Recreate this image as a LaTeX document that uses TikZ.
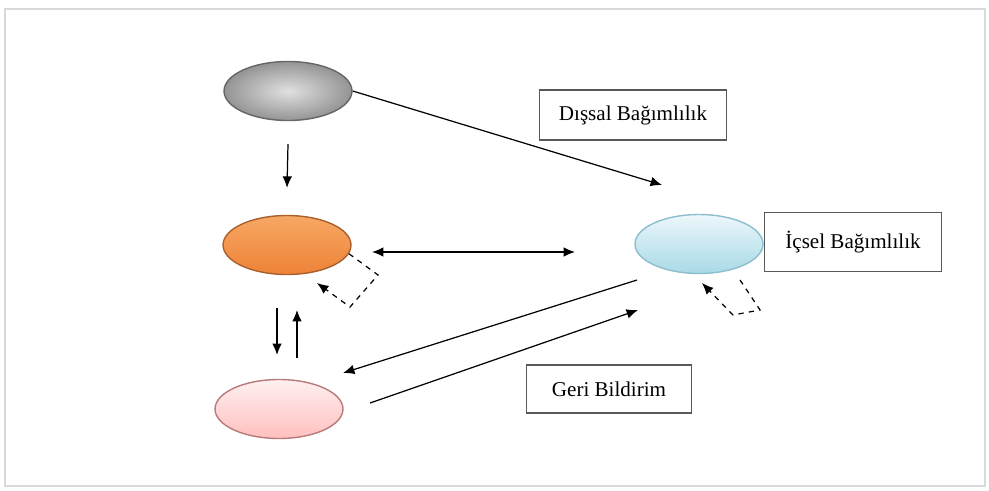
\documentclass[tikz,border=0pt]{standalone}
\usepackage{fontspec}
\newfontfamily\tagfont{Liberation Serif}
\usetikzlibrary{shapes.geometric, arrows.meta}
\definecolor{coreTop}{RGB}{247,168,100}
\definecolor{coreBot}{RGB}{238,130,55}
\definecolor{coreLine}{RGB}{170,95,45}
\definecolor{innerTop}{RGB}{236,247,251}
\definecolor{innerBot}{RGB}{168,218,230}
\definecolor{innerLine}{RGB}{140,190,205}

\begin{document}
\begin{tikzpicture}[x=0.02cm, y=-0.02cm, >={Latex[length=6.5pt,width=5.5pt]},
  oval/.style={ellipse, minimum width=2.56cm, minimum height=1.18cm, inner sep=0pt, line width=0.8pt},
  tag/.style={draw=black!65, line width=0.9pt, inner sep=0pt, font=\tagfont\fontsize{12}{14}\selectfont},
  link/.style={line width=0.7pt}]
\useasboundingbox (0,0) rectangle (989,490);

% Frame
\draw[black!15, line width=1.6pt] (5,9) rectangle (985,486);

% Draw ovals
\node[oval, draw=black!60, inner color=black!12, outer color=black!42] (source) at (288,91) {};
\node[oval, draw=coreLine, top color=coreTop, bottom color=coreBot] (core) at (287,245) {};
\node[oval, draw=innerLine, top color=innerTop, bottom color=innerBot] (inner) at (699,244) {};
\node[oval, draw=red!30!gray!80, top color=red!6, bottom color=red!25!white] (feedback) at (279,409) {};

% Labels
\node[tag, minimum width=3.74cm, minimum height=1cm] (extLbl) at (633,115) {Dışsal Bağımlılık};
\node[tag, minimum width=3.54cm, minimum height=1.18cm] (intLbl) at (853,242) {İçsel Bağımlılık};
\node[tag, minimum width=3.3cm, minimum height=0.96cm] (fbLbl) at (609,389) {Geri Bildirim};

% Free ends
\coordinate (extEnd) at (662,185);
\coordinate (downA) at (277,308);
\coordinate (downB) at (277,355);
\coordinate (upA) at (297,358);
\coordinate (upB) at (297,310);
\coordinate (coreR) at (372,252);
\coordinate (innerL) at (575,252);
\coordinate (backA) at (637,280);
\coordinate (backB) at (343,373);
\coordinate (fbA) at (370,403);
\coordinate (fbB) at (638,310);
\coordinate (coreLoopA) at (378,275);
\coordinate (coreLoopB) at (350,307);
\coordinate (coreLoopC) at (317,283);
\coordinate (innerLoopS) at (740,280);
\coordinate (innerLoopA) at (760,310);
\coordinate (innerLoopB) at (733,315);
\coordinate (innerLoopC) at (702,283);

% Draw arrows
\draw[link, ->] (source.east) -- (extEnd);
\draw[link, ->] ([yshift=-0.46cm]source.south) -- ([yshift=0.54cm]core.north);
\draw[link, <->] (coreR) -- (innerL);
\draw[link, ->] (downA) -- (downB);
\draw[link, ->] (upA) -- (upB);
\draw[link, ->] (backA) -- (backB);
\draw[link, ->] (fbA) -- (fbB);

% Self loops
\draw[link, ->, dashed] (core.-8) -- (coreLoopA) -- (coreLoopB) -- (coreLoopC);
\draw[link, ->, dashed] (innerLoopS) -- (innerLoopA) -- (innerLoopB) -- (innerLoopC);
\end{tikzpicture}
\end{document}
